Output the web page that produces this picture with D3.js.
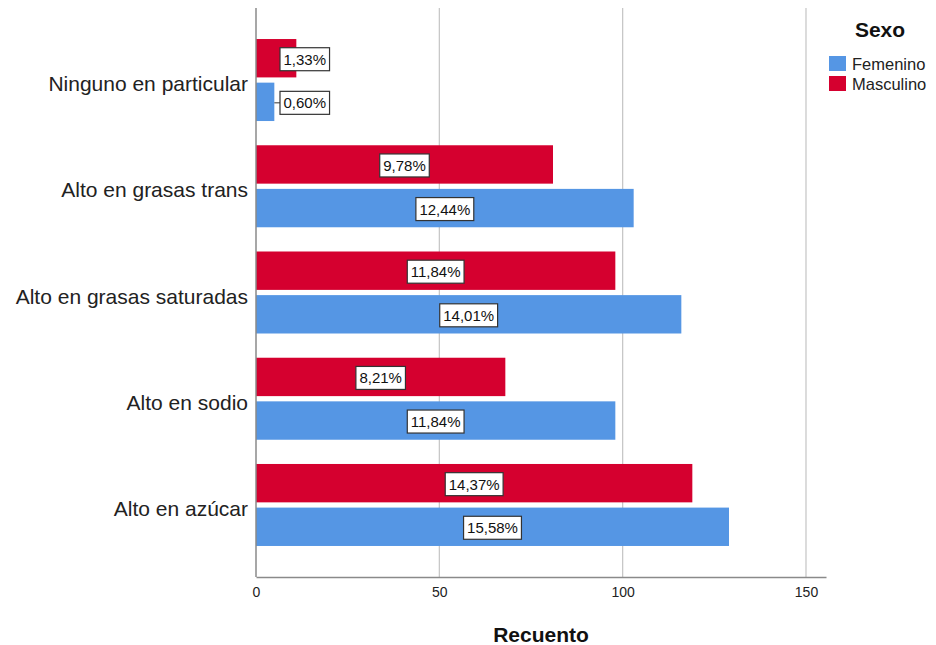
<!DOCTYPE html>
<html>
<head>
<meta charset="utf-8">
<script src="https://cdn.jsdelivr.net/npm/d3@7"></script>
<style>
  html, body { margin: 0; padding: 0; background: #fff; }
  svg { display: block; font-family: "Liberation Sans", Arial, sans-serif; }
</style>
</head>
<body>
<svg id="chart" width="936" height="645"></svg>
<script>
// Tipos de alimento considerados dañinos, recuento por sexo
const categories = [
  "Ninguno en particular",
  "Alto en grasas trans",
  "Alto en grasas saturadas",
  "Alto en sodio",
  "Alto en azúcar"
];
const masculino = [11, 81, 98, 68, 119];
const femenino  = [5, 103, 116, 98, 129];
const totalN = 828;             // base de los porcentajes
const xTicks = [0, 50, 100, 150];
const sexes = ["Masculino", "Femenino"];
const legendOrder = ["Femenino", "Masculino"];
const colors = { Femenino: "#5596e4", Masculino: "#d5002f" };

const svg = d3.select("#chart");
const plot = { left: 256, right: 826, top: 8, bottom: 577 };

const locale = d3.formatLocale({ decimal: ",", thousands: ".", grouping: [3], currency: ["", "€"] });
const pct = v => locale.format(".2f")(v / totalN * 100) + "%";

const x = d3.scaleLinear()
  .domain([0, 150 * (plot.right - plot.left) / 550])
  .range([plot.left, plot.right]);

const y = d3.scalePoint()
  .domain(categories)
  .range([plot.top, plot.bottom])
  .padding(0.678);

const ySex = d3.scaleBand()
  .domain(sexes)
  .range([-41, 41])
  .paddingInner(0.12);

// cuadrícula vertical
svg.append("g")
  .selectAll("line")
  .data(xTicks.filter(t => t > 0))
  .join("line")
  .attr("x1", d => x(d)).attr("x2", d => x(d))
  .attr("y1", plot.top).attr("y2", plot.bottom)
  .attr("stroke", "#c4c4c4").attr("stroke-width", 1.2);

// barras
const rows = categories.map((c, i) => ({
  cat: c,
  values: [
    { sex: "Masculino", v: masculino[i] },
    { sex: "Femenino", v: femenino[i] }
  ]
}));

const groups = svg.append("g").selectAll("g")
  .data(rows).join("g")
  .attr("transform", d => `translate(0,${y(d.cat)})`);

groups.selectAll("rect")
  .data(d => d.values).join("rect")
  .attr("x", x(0))
  .attr("y", d => ySex(d.sex))
  .attr("width", d => x(d.v) - x(0))
  .attr("height", ySex.bandwidth())
  .attr("fill", d => colors[d.sex]);

// ejes
svg.append("line")
  .attr("x1", plot.left).attr("x2", plot.left)
  .attr("y1", plot.top).attr("y2", plot.bottom)
  .attr("stroke", "#8a8a8a").attr("stroke-width", 1.5);

const xAxis = svg.append("g")
  .attr("transform", `translate(0,${plot.bottom})`)
  .attr("font-size", 14)
  .call(d3.axisBottom(x).tickValues(xTicks).tickSize(0).tickSizeOuter(0).tickPadding(10));
xAxis.attr("font-size", 14).attr("font-family", "Liberation Sans, Arial, sans-serif");
xAxis.select(".domain").attr("stroke", "#8a8a8a").attr("stroke-width", 1.5);
xAxis.selectAll("text").attr("fill", "#222");

svg.append("text")
  .attr("x", 541).attr("y", 642)
  .attr("text-anchor", "middle")
  .attr("font-size", 21).attr("font-weight", "bold").attr("fill", "#111")
  .text("Recuento");

// etiquetas de categoría
svg.append("g").selectAll("text")
  .data(categories).join("text")
  .attr("x", 248)
  .attr("y", d => y(d) + 11)
  .attr("text-anchor", "end")
  .attr("font-size", 21).attr("fill", "#222")
  .text(d => d);

// etiquetas de porcentaje
const labH = 23;
groups.each(function (row) {
  const g = d3.select(this);
  row.values.forEach(d => {
    const cy = ySex(d.sex) + ySex.bandwidth() / 2 + 1;
    const lg = g.append("g");
    const t = lg.append("text")
      .attr("font-size", 15).attr("fill", "#111")
      .attr("text-anchor", "middle")
      .attr("dominant-baseline", "central")
      .text(pct(d.v));
    const tw = t.node().getComputedTextLength();
    const bw = tw + 7;
    const barW = x(d.v) - x(0);
    let cx = x(0) + barW / 2;
    if (barW < bw + 10) {
      cx = x(0) + 24 + bw / 2;
      lg.insert("line", "text")
        .attr("x1", x(d.v)).attr("x2", cx - bw / 2)
        .attr("y1", cy).attr("y2", cy)
        .attr("stroke", "#333").attr("stroke-width", 1);
    }
    lg.insert("rect", "text")
      .attr("x", cx - bw / 2).attr("y", cy - labH / 2)
      .attr("width", bw).attr("height", labH)
      .attr("fill", "#fff").attr("stroke", "#333").attr("stroke-width", 1.2);
    t.attr("x", cx).attr("y", cy);
  });
});

// leyenda
const legend = svg.append("g");
legend.append("text")
  .attr("x", 880).attr("y", 37)
  .attr("text-anchor", "middle")
  .attr("font-size", 21).attr("font-weight", "bold").attr("fill", "#111")
  .text("Sexo");
legend.selectAll("g.item")
  .data(legendOrder).join("g").attr("class", "item")
  .attr("transform", (d, i) => `translate(829,${56 + i * 20})`)
  .call(s => {
    s.append("rect").attr("width", 17).attr("height", 15)
      .attr("fill", d => colors[d]);
    s.append("text").attr("x", 23).attr("y", 14)
      .attr("font-size", 16.5).attr("fill", "#222")
      .text(d => d);
  });
</script>
</body>
</html>
